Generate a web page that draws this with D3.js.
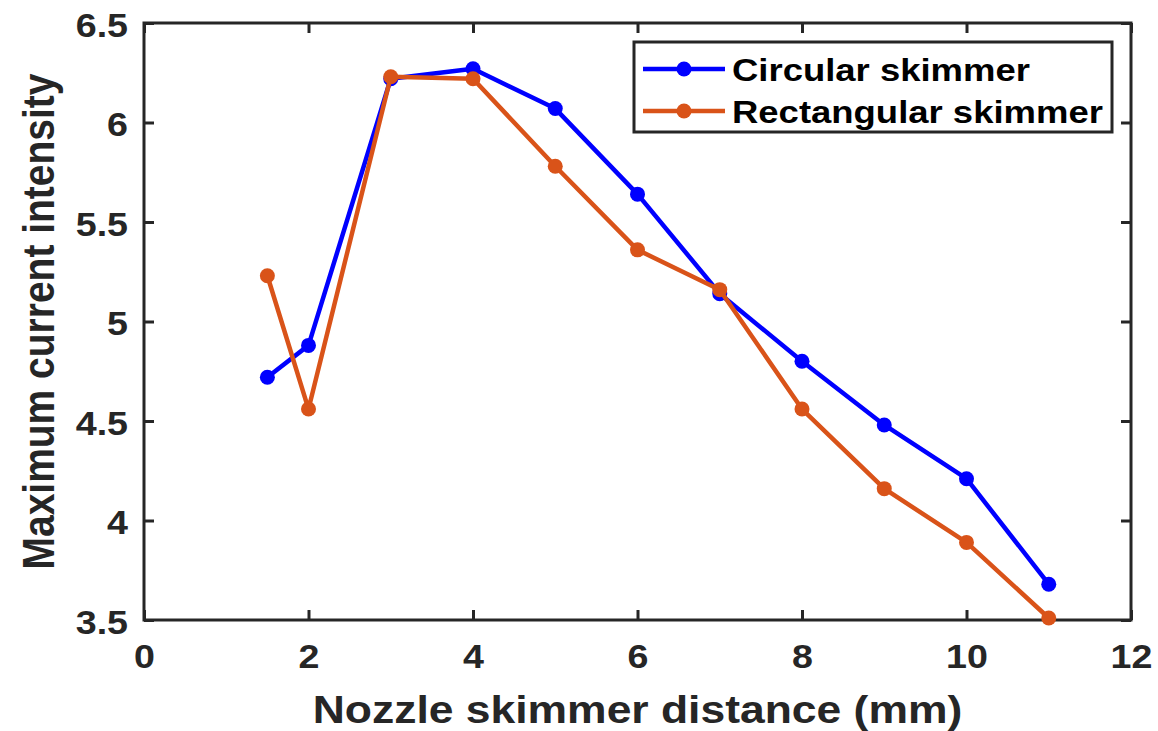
<!DOCTYPE html>
<html>
<head>
<meta charset="utf-8">
<script src="https://cdn.jsdelivr.net/npm/d3@7"></script>
<style>
  html, body { margin: 0; padding: 0; background: #fff; }
  svg text { font-family: "Liberation Sans", Arial, sans-serif; font-weight: bold; }
</style>
</head>
<body>
<div id="chart"></div>
<script>
// data
const distance = [1.5, 2, 3, 4, 5, 6, 7, 8, 9, 10, 11];
const circular = [4.72, 4.88, 6.22, 6.27, 6.07, 5.64, 5.14, 4.80, 4.48, 4.21, 3.68];
const rectangular = [5.23, 4.56, 6.23, 6.22, 5.78, 5.36, 5.16, 4.56, 4.16, 3.89, 3.51];
const seriesNames = ["Circular skimmer", "Rectangular skimmer"];
const xTicks = [0, 2, 4, 6, 8, 10, 12];
const yTicks = [3.5, 4, 4.5, 5, 5.5, 6, 6.5];

(function(){
const W = 1158, H = 731;
const left = 144, right = 1131, top = 23, bottom = 620;
const stretch = 1.14;   // the original figure is a bit wider than tall
const axisColor = "#262626";
const colors = ["#0000FF", "#D95319"];

const svg = d3.select("#chart").append("svg")
    .attr("width", W)
    .attr("height", H);

const x = d3.scaleLinear().domain([0, 12]).range([left, right]);
const y = d3.scaleLinear().domain([3.5, 6.5]).range([bottom, top]);

// axes (ticks pointing inward, like MATLAB)
const styleAxis = sel => {
    sel.select(".domain").remove();
    sel.selectAll(".tick line").attr("stroke", axisColor).attr("stroke-width", 3);
    sel.selectAll(".tick text")
        .attr("fill", axisColor)
        .style("font-size", "33px");
};

const xAxis = svg.append("g")
    .attr("transform", `translate(0,${bottom})`)
    .call(d3.axisBottom(x).tickValues(xTicks).tickSize(-10).tickSizeOuter(0).tickPadding(25).tickFormat(d3.format("d")))
    .call(styleAxis);
xAxis.selectAll(".tick text").attr("transform", `scale(${stretch},1)`);

const yAxis = svg.append("g")
    .attr("transform", `translate(${left},0)`)
    .call(d3.axisLeft(y).tickValues(yTicks).tickSize(-10).tickSizeOuter(0).tickPadding(14).tickFormat(d => d))
    .call(styleAxis);
yAxis.selectAll(".tick text").attr("dy", "0.4em").attr("transform", `scale(${stretch},1)`);

svg.append("g")
    .attr("transform", `translate(0,${top})`)
    .call(d3.axisTop(x).tickValues(xTicks).tickSize(-10).tickSizeOuter(0).tickFormat(""))
    .call(styleAxis);

svg.append("g")
    .attr("transform", `translate(${right},0)`)
    .call(d3.axisRight(y).tickValues(yTicks).tickSize(-10).tickSizeOuter(0).tickFormat(""))
    .call(styleAxis);

// box
svg.append("rect")
    .attr("x", left).attr("y", top)
    .attr("width", right - left).attr("height", bottom - top)
    .attr("fill", "none")
    .attr("stroke", axisColor)
    .attr("stroke-width", 3);

// axis titles
svg.append("text")
    .attr("transform", `translate(${(left + right) / 2},723) scale(${stretch},1)`)
    .attr("text-anchor", "middle")
    .attr("fill", axisColor)
    .style("font-size", "39px")
    .text("Nozzle skimmer distance (mm)");

svg.append("text")
    .attr("transform", `translate(54,${(top + bottom) / 2}) rotate(-90) scale(1,${stretch})`)
    .attr("text-anchor", "middle")
    .attr("fill", axisColor)
    .style("font-size", "39px")
    .text("Maximum current intensity");

// series
const series = [circular, rectangular];
const line = d3.line()
    .x((d, i) => x(distance[i]))
    .y(d => y(d));

series.forEach((vals, s) => {
    const g = svg.append("g");
    g.append("path")
        .datum(vals)
        .attr("d", line)
        .attr("fill", "none")
        .attr("stroke", colors[s])
        .attr("stroke-width", 4.5)
        .attr("stroke-linejoin", "round");
    g.selectAll("circle")
        .data(vals)
        .enter()
        .append("circle")
        .attr("cx", (d, i) => x(distance[i]))
        .attr("cy", d => y(d))
        .attr("r", 7.5)
        .attr("fill", colors[s]);
});

// legend
const legend = svg.append("g");
legend.append("rect")
    .attr("x", 634).attr("y", 42)
    .attr("width", 1112 - 634).attr("height", 132 - 42)
    .attr("fill", "#fff")
    .attr("stroke", axisColor)
    .attr("stroke-width", 3);

seriesNames.forEach((name, i) => {
    const ly = 69 + i * 42;
    legend.append("line")
        .attr("x1", 643).attr("x2", 725)
        .attr("y1", ly).attr("y2", ly)
        .attr("stroke", colors[i])
        .attr("stroke-width", 4.5);
    legend.append("circle")
        .attr("cx", 684).attr("cy", ly)
        .attr("r", 7.5)
        .attr("fill", colors[i]);
    legend.append("text")
        .attr("transform", `translate(732,${ly}) scale(${stretch},1)`)
        .attr("dy", "0.36em")
        .attr("fill", "#000")
        .style("font-size", "32px")
        .text(name);
});
})();
</script>
</body>
</html>
